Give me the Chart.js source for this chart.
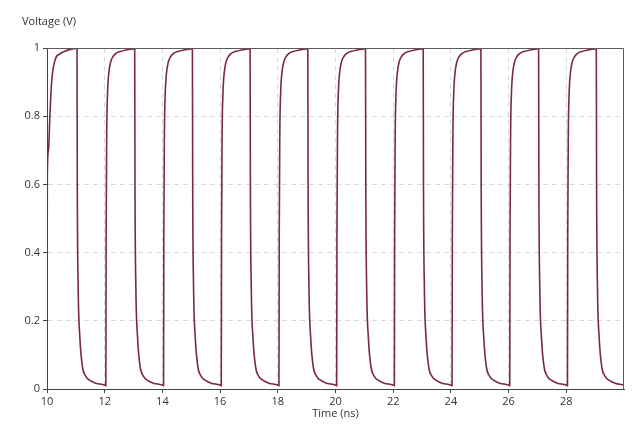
<!DOCTYPE html>
<html>
<head>
<meta charset="utf-8">
<script src="https://cdn.jsdelivr.net/npm/chart.js@4"></script>
<style>
  body { margin: 0; background: #fff; }
  #wave { display: block; }
</style>
</head>
<body>
<canvas id="wave" width="640" height="426"></canvas>
<script>
// edge times (ns)
const riseTimes = [10.0, 12.04, 14.04, 16.04, 18.04, 20.04, 22.04, 24.04, 26.04, 28.04];
const fallTimes = [11.04, 13.04, 15.04, 17.04, 19.04, 21.04, 23.04, 25.04, 27.04, 29.04];

// shape of one rising edge (time after edge, voltage)
const riseDt = [0, 0.01, 0.03, 0.06, 0.1, 0.17, 0.25, 0.35, 0.5, 0.7, 0.95];
const riseV = [0.01, 0.45, 0.75, 0.87, 0.925, 0.96, 0.975, 0.984, 0.99, 0.994, 0.997];

// the very first edge starts from ~0.6 and is a bit slower
const firstRiseDt = [0, 0.01, 0.05, 0.1, 0.16, 0.28, 0.45, 0.6, 0.8, 1.0];
const firstRiseV = [0, 0.62, 0.7, 0.8, 0.9, 0.965, 0.983, 0.99, 0.996, 0.999];

// shape of one falling edge
const fallDt = [0, 0.01, 0.04, 0.1, 0.19, 0.3, 0.45, 0.65, 0.95];
const fallV = [0.997, 0.6, 0.3, 0.15, 0.065, 0.038, 0.025, 0.017, 0.012];

const xTicks = [10, 12, 14, 16, 18, 20, 22, 24, 26, 28];
const yTicks = [0, 0.2, 0.4, 0.6, 0.8, 1];

const points = [];
riseTimes.forEach((tr, i) => {
  const dts = i === 0 ? firstRiseDt : riseDt;
  const vs = i === 0 ? firstRiseV : riseV;
  dts.forEach((dt, k) => points.push({ x: tr + dt, y: vs[k] }));
  fallDt.forEach((dt, k) => points.push({ x: fallTimes[i] + dt, y: fallV[k] }));
});

const frame = {
  id: "frame",
  afterDraw(chart) {
    const { ctx, chartArea: a } = chart;
    ctx.save();
    ctx.strokeStyle = "#5a5a5a";
    ctx.lineWidth = 1;
    ctx.beginPath();
    ctx.moveTo(a.left, a.top + 0.5);
    ctx.lineTo(a.right - 0.5, a.top + 0.5);
    ctx.lineTo(a.right - 0.5, a.bottom);
    ctx.stroke();
    ctx.fillStyle = "#333";
    ctx.font = "11px 'Open Sans'";
    ctx.textBaseline = "middle";
    ctx.fillText("Voltage (V)", 22, 22);
    ctx.restore();
  },
};

const ctx = document.getElementById("wave").getContext("2d");
new Chart(ctx, {
  type: "line",
  data: {
    datasets: [
      {
        data: points,
        borderColor: "#7a2b3b",
        borderWidth: 1.6,
        pointRadius: 0,
        cubicInterpolationMode: "monotone",
        fill: false,
      },
    ],
  },
  options: {
    responsive: false,
    animation: false,
    layout: { padding: { top: 48, right: 16, left: 0, bottom: 0 } },
    plugins: { legend: { display: false }, tooltip: { enabled: false } },
    scales: {
      x: {
        type: "linear",
        min: 10,
        max: 30,
        afterFit: (s) => { s.height = 37; },
        afterBuildTicks: (s) => { s.ticks = xTicks.map((v) => ({ value: v })); },
        ticks: {
          color: "#333",
          font: { family: "Open Sans", size: 11 },
          padding: 2,
          maxRotation: 0,
          callback: (v) => String(v),
        },
        grid: { color: "#cfdae6", tickColor: "#444", tickLength: 4, tickBorderDash: [] },
        border: { display: true, color: "#444", dash: [5, 4] },
        title: {
          display: true,
          text: "Time (ns)",
          color: "#333",
          font: { family: "Open Sans", size: 11 },
          padding: { top: 0, bottom: 6 },
        },
      },
      y: {
        min: 0,
        max: 1,
        afterFit: (s) => { s.width = 47; },
        afterBuildTicks: (s) => { s.ticks = yTicks.map((v) => ({ value: v })); },
        ticks: {
          color: "#333",
          font: { family: "Open Sans", size: 11 },
          padding: 3,
          callback: (v) => String(v),
        },
        grid: { color: "#cfdae6", tickColor: "#444", tickLength: 4, tickBorderDash: [] },
        border: { display: true, color: "#444", dash: [5, 4] },
      },
    },
  },
  plugins: [frame],
});
</script>
</body>
</html>
